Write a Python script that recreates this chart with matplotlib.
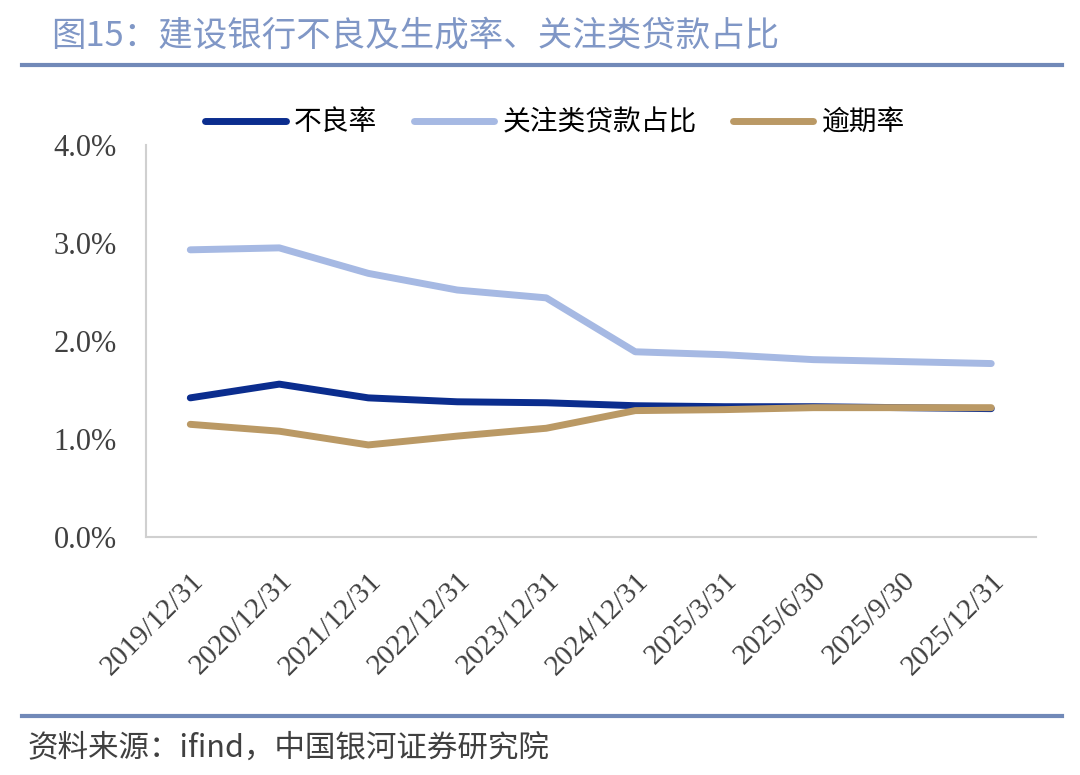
import numpy as np
import matplotlib.pyplot as plt
from matplotlib.lines import Line2D

plt.rcParams['font.family'] = ['Noto Sans CJK SC', 'DejaVu Sans']

# Data
dates = ['2019/12/31', '2020/12/31', '2021/12/31', '2022/12/31', '2023/12/31',
         '2024/12/31', '2025/3/31', '2025/6/30', '2025/9/30', '2025/12/31']
npl = [1.42, 1.56, 1.42, 1.38, 1.37, 1.34, 1.33, 1.33, 1.32, 1.31]
special_mention = [2.93, 2.95, 2.69, 2.52, 2.44, 1.89, 1.86, 1.81, 1.79, 1.77]
overdue = [1.15, 1.08, 0.94, 1.03, 1.11, 1.29, 1.30, 1.32, 1.32, 1.32]

names = ['不良率', '关注类贷款占比', '逾期率']
colors = ['#0B2D8E', '#A6B9E3', '#BA9965']

fig = plt.figure(figsize=(10.8, 7.75), dpi=100)
ax = fig.add_axes([0.135, 0.307, 0.824, 0.506])

x = np.arange(len(dates))
for vals, name, c in zip([npl, special_mention, overdue], names, colors):
    ax.plot(x, vals, color=c, lw=5, solid_capstyle='round', label=name)

ax.set_xlim(-0.5, len(dates) - 0.5)
ax.set_ylim(0, 4)
ax.set_yticks([0, 1, 2, 3, 4])
ax.set_yticklabels([f'{v:.1f}%' for v in [0, 1, 2, 3, 4]],
                   fontfamily='Liberation Serif', fontsize=22, color='#404040')
ax.set_xticks(x)
ax.set_xticklabels(dates, rotation=45, ha='right', rotation_mode='anchor',
                   fontfamily='Liberation Serif', fontsize=21, color='#404040')
ax.tick_params(axis='y', length=0, pad=21)
ax.tick_params(axis='x', length=0, pad=22)
for s in ['top', 'right']:
    ax.spines[s].set_visible(False)
for s in ['left', 'bottom']:
    ax.spines[s].set_color('#D0D0D0')
    ax.spines[s].set_linewidth(1.5)

handles = [Line2D([0], [0], color=c, lw=5, solid_capstyle='round') for c in colors]
fig.legend(handles, names, loc='center', bbox_to_anchor=(0.514, 0.842), ncol=3,
           frameon=False, fontsize=20, handlelength=2.9, columnspacing=1.3,
           handletextpad=0.3)

# title and footer
fig.text(0.047, 0.954, '图15：建设银行不良及生成率、关注类贷款占比', fontsize=24.8,
         color='#8097C6', va='center')
fig.add_artist(Line2D([0.02, 0.983], [0.916, 0.916], color='#7189B8', lw=3))
fig.add_artist(Line2D([0.02, 0.983], [0.076, 0.076], color='#7189B8', lw=3))
fig.text(0.025, 0.034, '资料来源：ifind，中国银河证券研究院', fontsize=22,
         color='#404040', va='center', style='italic')

fig.savefig('out.png', dpi=100)
